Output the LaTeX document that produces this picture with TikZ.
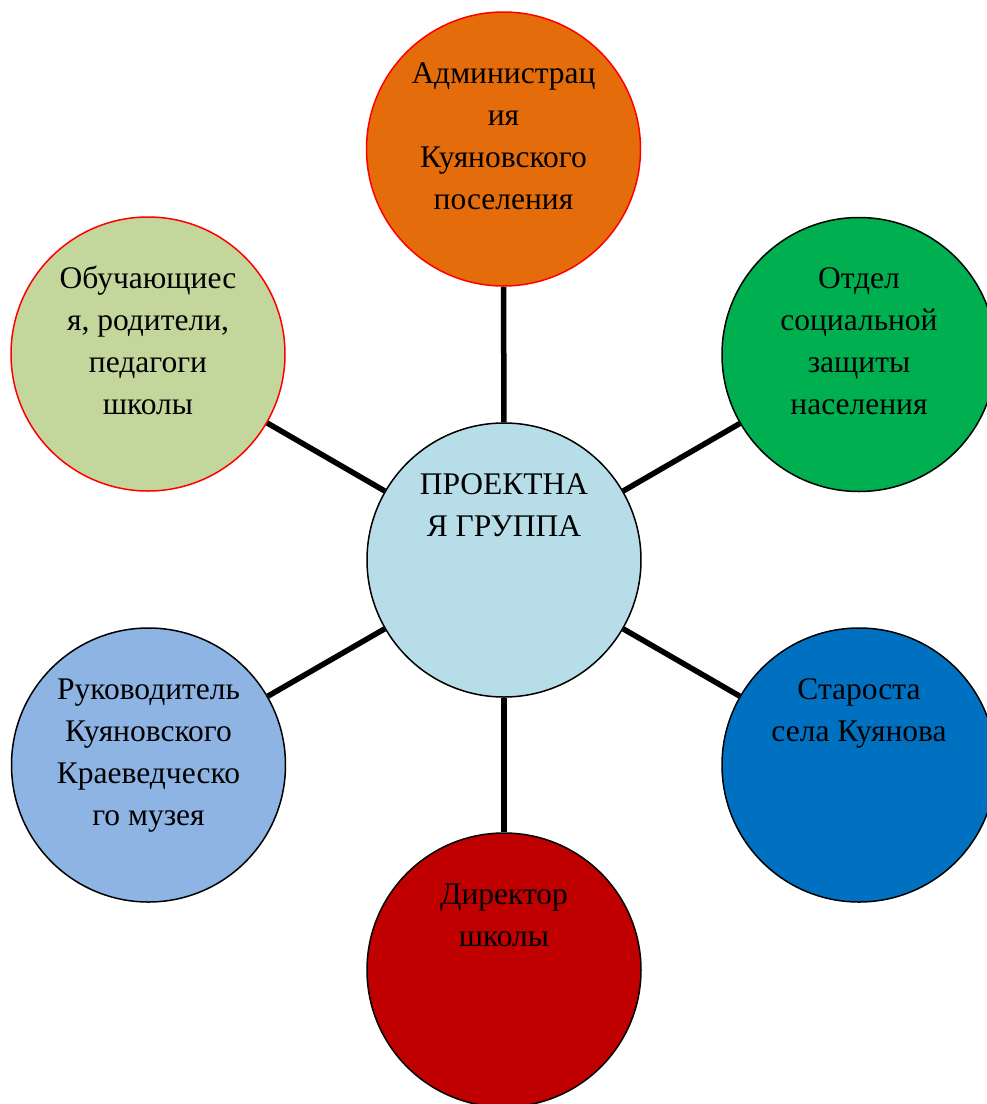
\documentclass[tikz,border=0pt]{standalone}
\usepackage{fontspec}
\setmainfont{Liberation Serif}
\definecolor{admorange}{HTML}{E46C0A}
\definecolor{socgreen}{HTML}{00B050}
\definecolor{groupcyan}{HTML}{B7DEE8}
\definecolor{elderblue}{HTML}{0070C0}
\definecolor{dirred}{HTML}{C00000}
\definecolor{museumblue}{HTML}{8EB4E3}
\definecolor{pupilolive}{HTML}{C3D69B}
\tikzset{
	member/.style={circle, draw=black, line width=1.5pt, minimum size=274pt, inner sep=0pt},
	memtext/.style={anchor=north, align=center, inner sep=0pt, font=\fontsize{31.5}{42}\selectfont},
	link/.style={line width=5.5pt}
}

\begin{document}
\begin{tikzpicture}[x=1pt,y=-1pt]
			\useasboundingbox (0,0) rectangle (987,1104);
			\node[member, fill=groupcyan] (group) at (504,560) {};
			\node[member, fill=admorange, draw=red] (adm) at (503.5,149) {};
			\node[member, fill=socgreen] (soc) at (859,354.5) {};
			\node[member, fill=elderblue] (elder) at (859,765) {};
			\node[member, fill=dirred] (dir) at (504,970) {};
			\node[member, fill=museumblue] (museum) at (148.5,765) {};
			\node[member, fill=pupilolive, draw=red] (pupils) at (148,354) {};
			\draw[link] (group) -- (adm);
			\draw[link] (group) -- (soc);
			\draw[link] (group) -- (elder);
			\draw[link] (group) -- (dir);
			\draw[link] (group) -- (museum);
			\draw[link] (group) -- (pupils);
			\node[memtext] (grouptxt) at (504,464.6) {\strut ПРОЕКТНА\\Я ГРУППА};
			\node[memtext] (admtxt) at (503.5,53.6) {\strut Администрац\\ия\\Куяновского\\поселения};
			\node[memtext] (soctxt) at (859,258.6) {\strut Отдел\\социальной\\защиты\\населения};
			\node[memtext] (eldertxt) at (859,669.6) {\strut Староста\\села Куянова};
			\node[memtext] (dirtxt) at (504,874.6) {\strut Директор\\школы};
			\node[memtext] (museumtxt) at (148.5,669.6) {\strut Руководитель\\Куяновского\\Краеведческо\\го музея};
			\node[memtext] (pupilstxt) at (148,258.6) {\strut Обучающиес\\я, родители,\\педагоги\\школы};
		\end{tikzpicture}
\end{document}
